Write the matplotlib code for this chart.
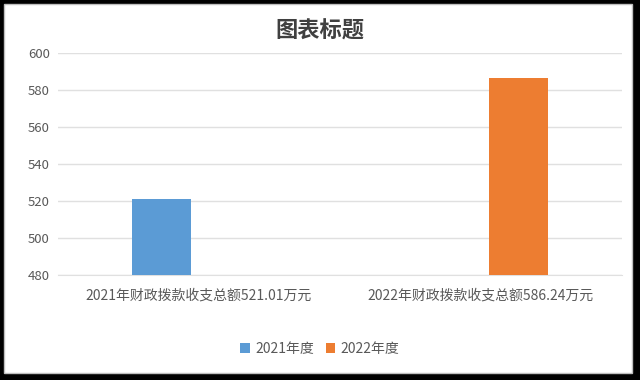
# libraries
import numpy as np
import matplotlib.pyplot as plt
from matplotlib.patches import Rectangle

plt.rcParams['font.family'] = ['Noto Sans CJK SC', 'DejaVu Sans']

# data
categories = ['2021年财政拨款收支总额521.01万元', '2022年财政拨款收支总额586.24万元']
series_names = ['2021年度', '2022年度']
values_2021 = [521.01, np.nan]
values_2022 = [np.nan, 586.24]
colors = ['#5B9BD5', '#ED7D31']
text_color = '#595959'
grid_color = '#E0E0E0'

fig = plt.figure(figsize=(6.4, 3.8), dpi=100, facecolor='black')

# white chart area with a thin grey edge, behind the axes
fig.patches.append(Rectangle((4 / 640, 7 / 380), 628 / 640, 369 / 380,
                             transform=fig.transFigure, facecolor='white',
                             edgecolor='#BFBFBF', linewidth=1, zorder=-1))

ax = fig.add_axes([58 / 640, 1 - 275 / 380, 564 / 640, 222 / 380])
ax.set_facecolor('white')

x = np.arange(len(categories))
width = 0.21
offset = 0.133
ax.bar(x - offset, values_2021, width, color=colors[0], label=series_names[0], zorder=3)
ax.bar(x + offset, values_2022, width, color=colors[1], label=series_names[1], zorder=3)

ax.set_xlim(-0.5, 1.5)
ax.set_ylim(480, 600)
ax.set_yticks(np.arange(480, 601, 20))
ax.set_xticks(x)
ax.set_xticklabels(categories)
ax.tick_params(axis='x', length=0, pad=10, labelsize=10, labelcolor=text_color)
ax.tick_params(axis='y', length=0, pad=6, labelsize=9.5, labelcolor=text_color)
ax.grid(axis='y', color=grid_color, linewidth=1, zorder=0)
for side in ['top', 'right', 'left']:
    ax.spines[side].set_visible(False)
ax.spines['bottom'].set_color(grid_color)

fig.text(0.5, 1 - 31 / 380, '图表标题', ha='center', va='center',
         fontsize=16, fontweight='bold', color='#404040')

fig.legend(loc='center', bbox_to_anchor=(0.5, 1 - 349 / 380), ncol=2,
           frameon=False, fontsize=10, labelcolor=text_color,
           handlelength=0.7, handleheight=0.7, handletextpad=0.4, columnspacing=0.8)

fig.savefig('out.png', dpi=100, facecolor=fig.get_facecolor())
